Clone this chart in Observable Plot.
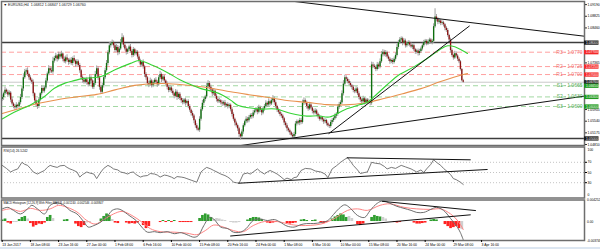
<!DOCTYPE html>
<html><head><meta charset="utf-8">
<script src="https://cdn.jsdelivr.net/npm/d3@7"></script>
<script src="https://cdn.jsdelivr.net/npm/@observablehq/plot@0.6"></script>
<style>
html,body{margin:0;padding:0;background:#fff;}
#chart{position:relative;width:600px;height:249px;overflow:hidden;background:#fff;}
#chart svg{position:absolute;left:0;}
.strip{position:absolute;left:0;top:247px;width:600px;height:2px;background:#dce6f1;}
</style></head><body><div id="chart"><div class="strip"></div></div>
<script>
// ---------- DATA (EUR/USD H4, prices as pips above 1.0000, e.g. 676 = 1.0676) ----------
const firstOpenPips = 622;
const closePips = [
628,640,651,645,636,642, 620,608,600,596,604,600, 612,628,655,690,708,712,
700,690,682,676,640,618, 606,600,620,640,656,648, 658,680,702,718,712,708,
742,750,758,748,762,755, 764,748,740,752,745,738, 745,735,750,742,732,740,
728,712,690,682,676,684, 675,668,690,680,660,672, 700,718,690,660,645,665,
690,712,735,768,790,796, 800,790,775,785,768,780, 800,815,792,780,770,778,
786,772,760,778,765,770, 755,742,730,738,724,700, 690,672,668,680,665,674,
682,676,668,690,700,684, 692,680,672,660,650,658, 648,640,632,645,628,638,
625,618,612,620,610,616, 600,588,578,570,555,540, 530,526,560,590,610,622,
630,662,672,660,652,640, 648,632,622,615,618,612, 608,612,602,606,600,604,
590,575,560,548,540,530, 512,505,520,540,552,560, 555,565,572,568,580,586,
590,582,596,588,580,592, 600,610,605,615,608,618, 625,612,600,590,582,575,
570,562,548,540,530,524, 518,510,505,512,545,552, 548,556,550,610,618,612,
600,592,605,595,585,580, 586,576,568,560,565,558, 552,556,546,540,537,550,
556,562,570,575,598,606, 612,640,670,690,685,678, 672,665,660,650,646,655,
640,628,620,615,624,612, 620,612,616,610,730,726, 722,716,730,724,740,762,
770,762,768,755,748,740, 744,738,748,760,785,800, 808,812,798,805,790,796,
800,792,786,790,778,770, 774,766,772,780,790,800, 804,796,802,808,800,804,
850,880,872,864,868,860, 862,856,845,838,822,808, 775,760,752,765,758,748,
740,716,681,676];
const wickUp = [
8,5,10,4,6,7, 5,9,4,6,8,3, 6,10,7,12,8,6, 9,4,6,5,7,3, 6,5,8,4,9,7, 5,8,6,10,6,9,
12,7,9,5,8,6, 9,4,7,6,10,5, 6,8,5,9,4,7, 5,7,4,6,8,5, 7,5,9,6,4,8, 10,9,6,5,4,7,
6,8,9,7,10,6, 8,5,7,9,6,8, 10,13,6,5,7,4, 6,8,5,7,4,6, 5,7,6,4,8,5, 6,4,7,9,5,6,
5,8,6,7,10,5, 7,6,4,5,6,8, 5,7,4,8,6,5, 6,4,7,5,6,4, 5,6,4,7,5,4, 6,5,8,7,9,6,
5,10,9,6,7,5, 7,4,6,5,8,4, 6,5,7,4,6,5, 4,6,5,4,6,5, 5,4,7,6,5,8, 6,7,5,6,8,5,
7,6,8,5,6,7, 6,8,5,9,5,7, 9,5,6,4,5,6, 5,6,4,5,6,4, 5,4,6,7,8,6, 5,7,6,10,9,6,
5,6,8,5,4,6, 7,5,4,6,5,4, 5,6,4,5,4,7, 6,5,7,6,8,7, 6,9,11,8,6,5, 6,5,4,6,5,7,
5,6,4,5,8,4, 6,5,7,4,9,8, 6,5,8,6,9,10, 8,6,7,5,6,5, 5,6,7,8,9,7, 8,6,5,7,6,5,
6,5,7,5,6,4, 5,6,7,6,8,7, 6,5,7,6,5,6, 9,26,8,6,7,5, 6,5,4,5,6,4, 6,5,4,8,6,5,
5,4,3,4];
const wickDn = [
6,9,5,7,8,5, 8,6,7,9,5,6, 5,7,6,8,5,7, 6,8,5,7,9,7, 8,9,6,5,7,6, 6,5,7,6,8,5,
7,6,8,9,5,7, 6,8,5,7,6,9, 7,6,8,5,9,6, 6,8,7,9,6,5, 8,7,5,9,6,7, 6,5,8,9,7,6,
7,6,5,8,6,7, 6,8,7,5,9,6, 5,7,8,6,9,7, 6,5,8,6,7,5, 7,6,8,5,7,9, 8,6,9,5,7,6,
6,7,8,5,6,9, 5,7,6,8,7,6, 7,6,8,5,9,6, 6,8,7,6,9,5, 7,6,8,7,9,8, 6,5,7,6,5,8,
7,6,5,8,6,9, 6,7,8,6,5,7, 8,6,7,5,8,6, 7,8,6,9,7,8, 9,10,6,7,5,6, 7,6,5,8,6,7,
6,8,5,7,9,6, 7,5,8,6,7,5, 6,8,7,9,6,7, 7,6,8,7,9,6, 8,5,6,5,7,6, 6,8,7,5,6,7,
8,7,5,6,8,7, 6,8,7,6,5,7, 8,6,7,5,6,5, 7,6,5,8,6,7, 6,5,7,6,8,7, 7,6,8,7,6,5,
6,7,8,6,5,7, 7,6,5,8,6,7, 6,7,5,8,6,5, 7,6,8,6,7,8, 6,7,5,6,5,7, 6,7,8,5,7,6,
7,6,5,8,6,7, 6,8,7,5,6,5, 7,6,5,8,6,7, 6,5,7,8,6,7, 6,7,8,6,5,7, 8,6,7,5,6,7,
6,5,4,3];

// moving averages (bar index, pips)
const greenBars = [0,10,20,29,37,45,51,58,64,70, 80,91,97,107,118,126,134,141,151,156, 162,167,175,183,194,205,216,224,232,243, 254,259,266,273,281,292,303,311,316,321, 326,330];
const greenVals = [561,585,605,628,657,674,681,688,690,694, 715,735,744,728,704,684,668,656,645,636, 620,604,596,592,592,578,570,571,567,590, 606,613,640,668,698,724,755,780,790,787, 776,766];
const orangeBars = [0,15,26,40,53,67,80,94,113,126, 141,151,162,175,189,202,216,230,243,257, 270,284,297,311,327,330];
const orangeVals = [578,597,610,622,630,638,652,666,672,669, 662,655,646,637,628,619,613,606,605,611, 624,640,656,678,700,703];

// pivot levels
const pivotNames = ["R3","R2","R1","S1","S2","S3"];
const pivotPrices = [1.0770,1.0725,1.0700,1.0665,1.0630,1.0600];
const levelPrices = [1.0800,1.0500];
const bidPrice = 1.0676;

// trend lines (bar, price)
const tlDownBars = [190,413], tlDownPrices = [1.0938,1.0820];
const tlSteepBars = [231.7,331.3], tlSteepPrices = [1.05155,1.08517];
const tlLongBars = [168.4,413], tlLongPrices = [1.04773,1.06325];

// price axis
const priceTicks = [1.09190,1.08825,1.08460,1.07365,1.05905,1.05540,1.05175,1.04810];
const boxPrices = [1.08000,1.07700,1.07250,1.07000,1.06760,1.06650,1.06300,1.06000,1.05000];
const boxColors = ["#1c1c1c","#f42828","#f42828","#f42828","#2a2a2a","#1f9a1f","#1f9a1f","#1f9a1f","#1c1c1c"];

// RSI(14)
const rsiBars = [0,3,6,8,11,14,16,18,20,22, 25,27,30,32,34,36,39,41,44,46, 48,50,53,55,57,60,62,65,67,70, 72,75,77,79,82,84,87,89,91,93, 95,98,100,103,105,108,110,112,115,117, 120,122,124,127,129,131,134,136,138,141, 143,145,148,150,153,155,158,160,162,164, 166,168,171,174,176,178,181,183,186,188, 190,193,195,197,200,202,205,207,209,212, 215,219,222,226,229,231,234,237,240,243, 245,247,249,252,254,257,259,262,265,268, 271,273,276,279,283,286,290,292,294,297, 299,301,304,306,308,311,313,316,318,320, 322,325,327];
const rsiVals = [64,58,51,54,57,70,66,64,58,51, 47,50,54,60,64,62,60,63,64,60, 57,55,51,41,46,51,49,47,38,51, 58,64,61,57,55,51,49,47,50,51, 46,41,43,44,48,47,45,41,45,44, 41,38,42,41,40,38,35,33,31,51, 56,60,57,54,50,47,44,41,37,31, 30,29,47,49,47,51,57,52,47,51, 54,50,47,43,36,39,36,40,41,54, 58,57,53,51,47,40,57,63,70,76, 79,72,64,55,48,50,51,70,68,67, 62,57,60,58,64,61,57,54,51,55, 50,57,66,75,70,64,58,51,46,38, 36,31,26.5];
const rsiLevels = [70,50,30];
const rsiTicks = [70,50,30];
const rsiUpBars = [167.8,344], rsiUpVals = [29,55.9];
const rsiTopBars = [244.7,332], rsiTopVals = [78.8,74.9];

// MACD (values in units of 0.0001)
const macdBars = [0,4,8,13,18,21,25,30,34,39, 44,48,53,58,61,65,70,75,78,82, 85,90,95,99,103,108,112,117,122,127, 131,136,139,143,147,150,155,160,164,169, 173,178,183,188,193,197,202,207,212,216, 221,226,231,235,239,243,247,252,257,261, 266,270,275,280,285,290,294,299,304,308, 313,318,323,325,327];
const macdVals = [25,28,22,15,25,32,25,15,32,37, 32,22,15,-1,-11,-8,-1,12,22,25, 22,12,2,-11,-21,-20,-22,-20,-24,-22, -26,-31,-28,-8,8,5,-11,-14,-21,-21, -14,2,5,2,4,-1,-9,-11,-6,-4, -4,-2,2,14,26,33,26,12,8,22, 36,41,36,30,26,22,18,18,24,28, 22,6,-12,-22,-36];
const sigBars = [0,6,13,20,27,34,40,46,53,60, 66,72,79,85,92,99,105,112,122,131, 138,144,150,157,164,171,178,186,195,205, 212,226,235,245,252,259,268,275,285,294, 304,311,318,322,325,327];
const sigVals = [22,25,20,26,22,25,32,28,19,2, -5,4,15,20,12,-1,-14,-20,-21,-23, -26,-18,-7,-11,-18,-20,-8,0,0,-6, -8,-5,5,22,25,22,32,35,28,25, 24,25,15,5,-6,-16];
const histBars = [0,2,4,6,8,10,12,14,16,18, 20,22,24,26,28,30,32,34,36,44, 46,52,54,56,58,60,62,70,72,74, 76,78,80,82,88,90,92,94,96,100, 102,104,112,114,116,118,120,122,126,128, 130,132,134,140,142,144,146,148,150,152, 154,156,158,162,164,166,168,174,176,178, 180,182,184,188,190,192,194,202,204,206, 208,212,214,216,220,222,226,228,230,234, 236,238,240,242,244,246,248,252,254,256, 262,264,266,268,270,272,278,280,282,292, 294,296,298,300,304,306,308,314,316,318, 320,322,324,326];
const histVals = [3,5,-3,-5,-2,-2,4,8,10,5, -4,-11,-8,-5,-6,-3,8,12,6,3, 4,-5,-10,-12,-8,-3,-2,5,10,15, 12,4,-3,-4,-3,-5,-4,-5,-3,-8, -14,-10,-2,2,-2,2,-2,2,-2,-2, -2,-2,-2,6,12,15,13,8,4,6, 5,3,2,-2,-3,-3,-2,3,6,8, 8,7,4,-3,-4,-3,-2,-4,-5,-4, -3,3,4,2,2,3,-3,-4,-2,5, 9,12,15,13,8,10,6,-6,-8,-5, 8,12,10,9,8,5,-2,-3,-2,-3, -5,-5,-4,-3,3,4,3,-6,-10,-14, -12,-10,-14,-16];
const histState = ["g","g","r","r","n","n","g","g","g","n", "r","r","r","r","r","r","g","g","n","g", "g","r","r","r","r","n","n","g","g","g", "g","n","r","r","r","r","r","r","r","r", "r","r","r","g","r","g","r","g","r","r", "r","r","r","g","g","g","g","g","n","n", "n","n","n","n","n","n","n","g","g","g", "g","g","g","r","r","r","r","r","r","r", "r","g","g","g","g","g","r","r","r","g", "g","g","g","g","g","n","n","r","r","r", "g","g","g","g","n","n","r","r","r","r", "r","r","r","r","g","g","g","r","r","r", "r","r","r","n"];
const macdUpBars = [162,332], macdUpVals = [-28.6,13.2];
const macdTopBars = [269.5,335.7], macdTopVals = [39.9,21.7];
const macdTickVals = [0.004252, 0, -0.003748];
const macdTickText = ["0.004252","0.00","-0.003748"];

// time axis
const tickBars = [0,20,40,60,80,100,120,140,160,180,200,220,240,260,280,300,320,340];
const tickLabels = ["13 Jan 2017","18 Jan 08:00","23 Jan 16:00","27 Jan 00:00","1 Feb 08:00","6 Feb 16:00","10 Feb 00:00","15 Feb 08:00","20 Feb 16:00","24 Feb 00:00","1 Mar 08:00","6 Mar 16:00","10 Mar 00:00","15 Mar 08:00","20 Mar 16:00","24 Mar 00:00","29 Mar 08:00","3 Apr 16:00"];

const titleMain = "\u25BC EURUSD,H4  1.06812 1.06847 1.06729 1.06760";
const titleRsi = "RSI(14) 26.5242";
const titleMacd = "MACD Histogram [12,26,9] With Filter MA[13] -0.001240 -0.002546 -0.003847";

// ---------- BUILD ----------
const P = v => 1 + v / 10000;
const M = v => v / 10000;
const candles = closePips.map((c, i) => {
  const o = i === 0 ? firstOpenPips : closePips[i - 1];
  return {bar: i, open: P(o), close: P(c),
    high: P(Math.max(o, c) + (wickUp[i] ?? 5)), low: P(Math.min(o, c) - (wickDn[i] ?? 5)), up: c >= o};
});
const green = greenBars.map((b, i) => ({bar: b, v: P(greenVals[i])}));
const orange = orangeBars.map((b, i) => ({bar: b, v: P(orangeVals[i])}));
const pivots = pivotNames.map((n, i) => ({name: n, price: pivotPrices[i], res: n[0] === "R"}));
const trends = [
  ...tlDownBars.map((b, i) => ({k: "d", bar: b, p: tlDownPrices[i]})),
  ...tlSteepBars.map((b, i) => ({k: "s", bar: b, p: tlSteepPrices[i]})),
  ...tlLongBars.map((b, i) => ({k: "l", bar: b, p: tlLongPrices[i]}))
];
const boxes = boxPrices.map((p, i) => ({price: p, color: boxColors[i]}));
const rsi = rsiBars.map((b, i) => ({bar: b, v: rsiVals[i]}));
const rsiTrends = [
  ...rsiUpBars.map((b, i) => ({k: "u", bar: b, v: rsiUpVals[i]})),
  ...rsiTopBars.map((b, i) => ({k: "t", bar: b, v: rsiTopVals[i]}))
];
const macd = macdBars.map((b, i) => ({bar: b, v: M(macdVals[i])}));
const sig = sigBars.map((b, i) => ({bar: b, v: M(sigVals[i])}));
const histColor = {g: "#2f9e2f", r: "#ff2020", n: "#cfcfcf"};
const hist = histBars.map((b, i) => ({bar: b, v: M(histVals[i]), c: histColor[histState[i]] || "#cfcfcf"}));
const macdTrends = [
  ...macdUpBars.map((b, i) => ({k: "u", bar: b, v: M(macdUpVals[i])})),
  ...macdTopBars.map((b, i) => ({k: "t", bar: b, v: M(macdTopVals[i])}))
];
const labelByBar = new Map(tickBars.map((b, i) => [b, tickLabels[i]]));

const W = 600, ML = 1, MR = 16;
const xDomain = [-0.5, 413];
const barsPerPx = (xDomain[1] - xDomain[0]) / (W - ML - MR);
const xEnd = xDomain[1];
const font = "'Liberation Sans', Arial, sans-serif";
const fmt5 = d3.format(".5f");
const frameColor = "#6e6e6e";

const mainPlot = Plot.plot({
  width: W, height: 146, marginLeft: ML, marginRight: MR, marginTop: 1, marginBottom: 1,
  style: {fontFamily: font, overflow: "visible", background: "transparent"},
  x: {domain: xDomain, axis: null},
  y: {domain: [1.047789, 1.092874], axis: null},
  color: {type: "identity"},
  marks: [
    Plot.ruleY([bidPrice], {stroke: "#c9c9c9", strokeWidth: 1}),
    Plot.ruleY(pivots, {y: "price", stroke: d => d.res ? "#ffa0a0" : "#a3d8a3", strokeWidth: 1, strokeDasharray: "5,3"}),
    Plot.ruleY(levelPrices, {stroke: "#3c3c3c", strokeWidth: 1.5}),
    Plot.ruleX(candles, {x: "bar", y1: "low", y2: "high", stroke: "#a0a0a0", strokeWidth: 1}),
    Plot.ruleX(candles, {x: "bar", y1: "open", y2: "close", stroke: d => d.up ? "#0d6e0d" : "#8a1212", strokeWidth: 1.35}),
    Plot.line(orange, {x: "bar", y: "v", stroke: "#e8924e", strokeWidth: 1.1, curve: "catmull-rom"}),
    Plot.line(green, {x: "bar", y: "v", stroke: "#35d435", strokeWidth: 1.1, curve: "catmull-rom"}),
    Plot.line(trends, {x: "bar", y: "p", z: "k", stroke: "#111", strokeWidth: 1, clip: true}),
    Plot.text(pivots, {x: xEnd, y: "price", text: d => `${d.name} - ${d.price.toFixed(4)}`, textAnchor: "end", lineAnchor: "bottom", dx: -2, dy: 1.5, fontSize: 5, fill: d => d.res ? "#f07272" : "#55aa55"}),
    Plot.frame({stroke: frameColor, strokeWidth: 1.5}),
    Plot.axisY(priceTicks, {anchor: "right", tickSize: 2, tickPadding: 1, fontSize: 3.4, tickFormat: fmt5, label: null, stroke: "#333"}),
    Plot.ruleY(boxes, {y: "price", x1: xEnd, x2: xEnd + 14.5 * barsPerPx, stroke: "color", strokeWidth: 4.3}),
    Plot.text(boxes, {x: xEnd, y: "price", dx: 7.5, text: d => fmt5(d.price), fill: "white", fontSize: 3.3}),
    Plot.text([titleMain], {frameAnchor: "top-left", text: d => d, dx: 2, dy: 2, fontSize: 3.6, fill: "#111"})
  ]
});

const rsiPlot = Plot.plot({
  width: W, height: 52, marginLeft: ML, marginRight: MR, marginTop: 0.5, marginBottom: 0.5,
  style: {fontFamily: font, overflow: "visible", background: "transparent"},
  x: {domain: xDomain, axis: null},
  y: {domain: [0, 100], axis: null},
  marks: [
    Plot.ruleY(rsiLevels, {stroke: "#c4c4c4", strokeDasharray: "1,2"}),
    Plot.line(rsi, {x: "bar", y: "v", stroke: "#6a6a6a", strokeWidth: 0.9}),
    Plot.line(rsiTrends, {x: "bar", y: "v", z: "k", stroke: "#111", strokeWidth: 1}),
    Plot.frame({stroke: frameColor, strokeWidth: 1.5}),
    Plot.axisY(rsiTicks, {anchor: "right", tickSize: 2, tickPadding: 1, fontSize: 3.4, label: null}),
    Plot.text([100], {x: xEnd, y: d => d, text: d => String(d), dx: 3, dy: 2.5, textAnchor: "start", fontSize: 3.4}),
    Plot.text([0], {x: xEnd, y: d => d, text: d => String(d), dx: 3, dy: -3, textAnchor: "start", fontSize: 3.4}),
    Plot.text([titleRsi], {frameAnchor: "top-left", text: d => d, dx: 2, dy: 2.2, fontSize: 3.3, fill: "#111"})
  ]
});

const macdPlot = Plot.plot({
  width: W, height: 51, marginLeft: ML, marginRight: MR, marginTop: 1.5, marginBottom: 9,
  style: {fontFamily: font, overflow: "visible", background: "transparent"},
  x: {domain: xDomain, axis: null},
  y: {domain: [-0.003748, 0.004252], axis: null},
  color: {type: "identity"},
  marks: [
    Plot.rectY(hist, {x1: d => d.bar - 0.6, x2: d => d.bar + 1.3, y1: 0, y2: "v", fill: "c"}),
    Plot.line(sig, {x: "bar", y: "v", stroke: "#ff8585", strokeWidth: 1, curve: "catmull-rom"}),
    Plot.line(macd, {x: "bar", y: "v", stroke: "#6e6e6e", strokeWidth: 1, curve: "catmull-rom"}),
    Plot.line(macdTrends, {x: "bar", y: "v", z: "k", stroke: "#111", strokeWidth: 1}),
    Plot.frame({stroke: frameColor, strokeWidth: 1.5}),
    Plot.text(macdTickVals, {x: xEnd, y: d => d, text: d => macdTickText[macdTickVals.indexOf(d)], dx: 2.5, textAnchor: "start", fontSize: 3.2}),
    Plot.axisX(tickBars, {anchor: "bottom", tickSize: 2, tickPadding: 1, fontSize: 3.4, textAnchor: "start", tickFormat: d => labelByBar.get(d), label: null}),
    Plot.text([titleMacd], {frameAnchor: "top-left", text: d => d, dx: 2, dy: 2, fontSize: 2.9, fill: "#111"})
  ]
});

const chart = document.getElementById("chart");
[[mainPlot, 0], [rsiPlot, 146], [macdPlot, 198]].forEach(([el, top]) => {
  el.style.position = "absolute";
  el.style.left = "0px";
  el.style.top = top + "px";
  chart.appendChild(el);
});
</script></body></html>
